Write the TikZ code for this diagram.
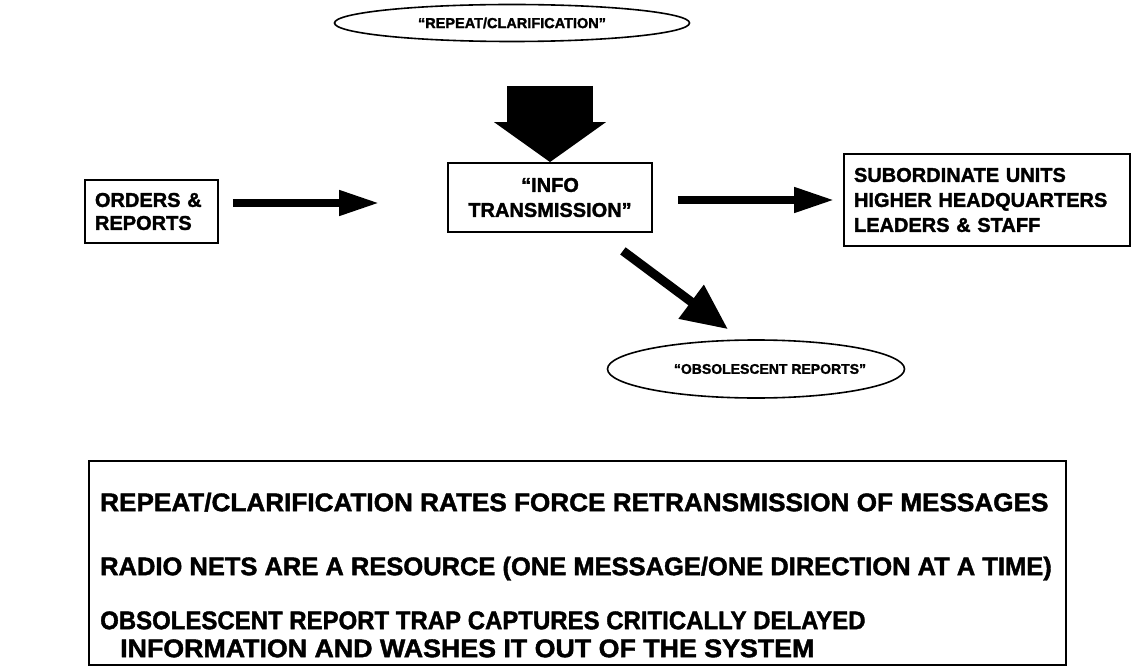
\documentclass[tikz,border=0pt]{standalone}
\usepackage{graphicx}
\usepackage{fontspec}
\setmainfont{Liberation Sans}
\newfontfamily\heavyfont{Liberation Sans Bold}[FakeBold=1.6]
\usetikzlibrary{arrows.meta,shapes.geometric,calc}
\newcommand{\fsz}[2]{\fontsize{#1}{#2}\selectfont}
\newcommand{\wline}[2]{\scalebox{#1}[1]{#2}}
\begin{document}
\begin{tikzpicture}[x=1pt,y=-1pt,font=\heavyfont,
  box/.style={draw,line width=1.8pt,rectangle,inner sep=0pt},
  oval/.style={draw,ellipse,line width=1.6pt,inner sep=0pt},
  flow/.style={line width=7.5pt,-{Triangle[length=40pt,width=24pt]}},
  fatflow/.style={line width=86pt,-{Triangle[length=40pt,width=110pt]}},
  slantflow/.style={line width=9pt,-{Triangle[length=46pt,width=40pt]}}]
\useasboundingbox (0,0) rectangle (1132,671);

% ellipses
\node[oval,minimum width=355pt,minimum height=37pt,font=\heavyfont\fsz{14.5}{16}] (rep) at (512,23)
  {“REPEAT/CLARIFICATION”};
\node[oval,minimum width=297pt,minimum height=58pt] (obs) at (756,369) {};
\node[font=\heavyfont\fsz{14}{16},inner sep=0pt] (obslabel) at ([xshift=14pt]obs.center)
  {“OBSOLESCENT REPORTS”};

% boxes
\node[box,minimum width=133pt,minimum height=63pt,align=left,
      text width=113pt,inner xsep=10pt,font=\heavyfont\fsz{20}{23}] (orders) at (151.5,211.5)
  {ORDERS \&\\REPORTS};
\node[box,minimum width=204pt,minimum height=69pt,align=center,
      font=\heavyfont\fsz{20}{25}] (info) at (550,197.5)
  {“INFO\\TRANSMISSION”};
\node[box,minimum width=286pt,minimum height=92pt,align=left,
      text width=266pt,inner xsep=10pt,font=\heavyfont\fsz{20}{25}] (rb) at (987,200)
  {SUBORDINATE UNITS\\HIGHER HEADQUARTERS\\LEADERS \& STAFF};

% connectors
\draw[flow,shorten <=14pt,shorten >=68pt]
  ([yshift=8.5pt]orders.east) -- ([yshift=8.5pt]orders.east -| info.west);
\draw[flow,shorten <=25pt,shorten >=9pt] (info.east |- rb.west) -- (rb.west);
\draw[fatflow,shorten <=43.5pt] (rep.south -| info.north) -- (info.north);
\draw[slantflow] ([xshift=-30pt,yshift=-18pt]info.south east)
  -- ([xshift=-28pt,yshift=10pt]obs.north);

% notes panel
\node[box,minimum width=977pt,minimum height=204pt,anchor=north west] (notes) at (88,460) {};
\node[anchor=north west,inner sep=0pt,align=left,font=\heavyfont\fsz{25.5}{28}] (notetext)
  at ([xshift=12pt,yshift=-32.5pt]notes.north west)
  {\wline{1.025}{REPEAT/CLARIFICATION RATES FORCE RETRANSMISSION OF MESSAGES}\\[36pt]
   \wline{1.0}{RADIO NETS ARE A RESOURCE (ONE MESSAGE/ONE DIRECTION AT A TIME)}\\[26pt]
   \wline{0.94}{OBSOLESCENT REPORT TRAP CAPTURES CRITICALLY DELAYED}\\
   \hspace*{20pt}\wline{1.05}{INFORMATION AND WASHES IT OUT OF THE SYSTEM}};
\end{tikzpicture}
\end{document}
